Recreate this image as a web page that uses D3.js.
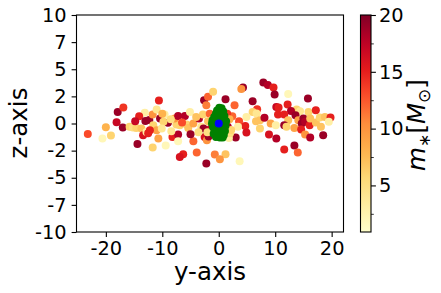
<!DOCTYPE html>
<html>
  <head>
    <meta charset="utf-8">
    <title>Stars and cluster, y-z plane</title>
    <script src="https://d3js.org/d3.v7.min.js"></script>
    <style>
      body { margin: 0; background: #fff; }
      text { font-family: "DejaVu Sans", sans-serif; fill: #000; }
    </style>
  </head>
  <body>
    <div id="chart"></div>
    <script>
      // stars: y position, z position, mass
      var starY = [-23.2, -20.6, -20.0, -19.1, -17.9, -16.9, -18.1, -17.0, -14.4, -15.8, -15.2, -14.6, -13.7, -13.1, -14.1,
        -13.0, -13.4, -12.8, -10.6, -11.7, -9.4, -12.3, -11.7, -11.0, -10.4, -9.6, -9.0, -9.8, -11.6, -11.0, -10.1, -12.2,
        -10.7, -8.2, -7.2, -8.4, -7.2, -7.5, -7.8, -7.2, -6.0, -6.9, -5.7, -5.4, -5.1, -4.5, -4.5, -6.3, -6.9, -3.9, -3.5,
        -3.1, -2.8, -2.6, -1.9, -1.0, -2.2, -2.7, -2.5, -2.1, -2.2, -0.7, 4.3, 4.0, 1.2, 6.0, 2.8, 7.9, 8.7, 9.7, 9.9, 6.8,
        6.0, 6.7, 2.4, 4.9, 3.6, 4.7, 4.9, 3.4, 6.6, 7.3, 8.1, 7.3, 9.2, 10.1, 10.5, 10.2, 8.9, 10.2, 3.0, 1.8, 1.2, 0.2,
        3.7, 12.3, 15.8, 12.2, 10.6, 13.8, 12.8, 14.4, 15.9, 17.2, 13.6, 11.6, 12.3, 14.1, 15.0, 14.7, 15.3, 16.1, 16.2,
        17.2, 17.9, 18.8, 19.8, 19.5, 18.1, 11.6, 12.0, 13.4, 14.6, 15.3, 16.2, 18.5, 11.6, 13.4, 14.0,
        -14.8, -12.5, -10.0, -8.5, -6.5, -4.0, -3.6, -5.0, -1.6, -1.5, -1.8, -1.3, 1.5, 1.6, 2.0, -1.9, -2.0, 1.9, 2.2];
      var starZ = [-0.96, -1.39, -0.34, -1.11, 1.07, 1.48, 0.12, -0.37, -1.88, -0.31, -0.37, -0.41, -0.46, 0.98, 0.67,
        0.24, -1.08, -0.78, 2.12, -2.22, -2.03, 0.33, 0.83, 1.29, 0.46, 0.83, 0.06, 0.15, -0.16, -0.62, -0.46, -0.62,
        -1.39, -1.24, -1.02, -0.71, -1.63, -0.09, 0.46, 0.70, 0.70, -0.16, -0.09, -0.41, 1.07, 0.0, -1.63, -2.83, -3.08,
        -2.68, 0.46, -0.31, 0.83, 2.15, 2.46, 2.92, 1.69, -0.46, -1.24, -1.54, -3.69, -2.86, 3.32, 3.17, 2.24, 2.06, 1.69,
        3.79, 3.54, 3.32, 2.68, 1.32, 1.07, 0.92, 0.67, 0.61, 0.21, -0.22, -0.83, -0.31, 0.21, 0.30, 0.52, -0.46, 0.0,
        -0.16, 0.83, 1.51, -1.02, -1.39, -1.29, -1.33, -2.83, -3.3, -3.48, 2.71, 2.31, 1.75, 1.48, 1.29, 1.16, 1.14, 1.07,
        1.23, 0.77, 0.83, 0.30, 0.30, 0.46, 0.0, 0.15, -0.16, 0.46, 0.09, 0.55, 0.61, 0.55, 0.15, -0.31, -0.16, -0.31,
        -0.41, -0.55, -1.02, -1.29, -1.08, -2.40, -2.03, -2.68,
        0.2, -0.9, 0.9, 0.4, 0.1, 0.6, -0.8, -1.0, 0.9, -0.5, -1.2, 0.3, 0.9, -0.3, -0.9, 0.2, -0.8, 0.4, -0.6];
      var starMass = [13, 2, 8, 6, 19, 14, 17, 19, 19, 6, 5, 6, 7, 3, 15, 19, 16, 3, 15, 6, 2, 19, 10, 4, 19, 3, 19, 6, 6,
        9, 4, 15, 9, 15, 18, 4, 2, 6, 10, 18, 18, 6, 6, 7, 3, 9, 12, 15, 16, 12, 18, 4, 6, 19, 12, 6, 11, 19, 16, 10, 19,
        11, 19, 10, 19, 19, 12, 19, 18, 15, 19, 14, 6, 4, 12, 3, 13, 15, 16, 3, 7, 7, 18, 6, 9, 3, 15, 17, 16, 18, 19, 3,
        7, 10, 2, 2, 19, 15, 15, 6, 18, 4, 6, 15, 19, 15, 7, 9, 19, 19, 18, 15, 7, 7, 6, 7, 15, 3, 7, 19, 6, 9, 15, 10,
        18, 19, 15, 19, 12,
        17, 15, 8, 5, 13, 7, 5, 19, 12, 17, 19, 5, 14, 18, 5, 7, 5, 8, 6];
      // cluster members (green) and centre (blue)
      var clusterY = [0.1, 0.5, -0.3, 0.3, 0.8, -0.5, 0.0, 0.6, 1.0, -0.8, -0.2, 0.4, -1.1, -0.5, 0.2, 0.9, 1.3, -1.2,
        -0.7, 0.7, 1.2, -1.0, -0.4, 0.3, 0.9, -0.7, 0.0, 0.6, 1.1, -0.9, -0.3, 0.4, 0.9, -0.5, 0.2, 0.7];
      var clusterZ = [1.45, 1.4, 1.2, 1.15, 1.1, 0.9, 0.9, 0.85, 0.7, 0.6, 0.6, 0.55, 0.3, 0.3, 0.3, 0.3, 0.2, 0.0,
        -0.05, -0.05, -0.2, -0.35, -0.3, -0.35, -0.4, -0.65, -0.6, -0.7, -0.7, -0.95, -0.95, -1.0, -1.05, -1.25, -1.3, -1.3];
      var centreY = [0];
      var centreZ = [0];
      // axis ticks
      var xTicks = [-20, -10, 0, 10, 20];
      var zTicks = [-10, -7.5, -5, -2.5, 0, 2.5, 5, 7.5, 10];
      var zTickLabels = ["-10", "-7", "-5", "-2", "0", "2", "5", "7", "10"];
      var massTicks = [5, 10, 15, 20];
      var massMinorTicks = [2.5, 7.5, 12.5, 17.5];

      var width = 441, height = 293;
      var plot = { left: 76.5, right: 343.5, top: 15, bottom: 232 };
      var bar = { left: 360.5, right: 371, top: 15, bottom: 232 };

      var svg = d3.select("#chart").append("svg")
        .attr("width", width)
        .attr("height", height);
      svg.append("rect").attr("width", width).attr("height", height).attr("fill", "#fff");

      var x = d3.scaleLinear().domain([-25.2, 22.1]).range([plot.left, plot.right]);
      var z = d3.scaleLinear().domain([-10, 10]).range([plot.bottom, plot.top]);
      var massScale = d3.scaleLinear().domain([0.9, 20]).range([bar.bottom, bar.top]);
      var colour = d3.scaleSequential(d3.piecewise(d3.interpolateRgb, d3.schemeYlOrRd[9])).domain([0.9, 20]);

      // stars
      svg.append("g")
        .selectAll("circle")
        .data(d3.range(starY.length))
        .join("circle")
          .attr("cx", function(i) { return x(starY[i]); })
          .attr("cy", function(i) { return z(starZ[i]); })
          .attr("r", 4)
          .attr("fill", function(i) { return colour(starMass[i]); });

      // cluster
      svg.append("g")
        .selectAll("circle")
        .data(d3.range(clusterY.length))
        .join("circle")
          .attr("cx", function(i) { return x(clusterY[i]); })
          .attr("cy", function(i) { return z(clusterZ[i]); })
          .attr("r", 4)
          .attr("fill", "#008000");

      svg.append("g")
        .selectAll("circle")
        .data(d3.range(centreY.length))
        .join("circle")
          .attr("cx", function(i) { return x(centreY[i]); })
          .attr("cy", function(i) { return z(centreZ[i]); })
          .attr("r", 4)
          .attr("fill", "#0000ff");

      // axes
      var xAxis = svg.append("g")
        .attr("transform", "translate(0," + plot.bottom + ")")
        .call(d3.axisBottom(x).tickValues(xTicks).tickFormat(d3.format("d")).tickSize(4.9).tickPadding(4.5).tickSizeOuter(0));
      var zAxis = svg.append("g")
        .attr("transform", "translate(" + plot.left + ",0)")
        .call(d3.axisLeft(z).tickValues(zTicks).tickFormat(function(d, i) { return zTickLabels[i]; })
          .tickSize(4.9).tickPadding(4.9).tickSizeOuter(0));
      [xAxis, zAxis].forEach(function(g) {
        g.select(".domain").remove();
        g.selectAll("line").attr("stroke", "#000").attr("stroke-width", 1.1);
        g.selectAll("text").style("font-size", "19.4px").style("font-family", "DejaVu Sans");
      });
      xAxis.selectAll("text").text(function(d) { return d < 0 ? "-" + Math.abs(d) : d; });

      svg.append("rect")
        .attr("x", plot.left).attr("y", plot.top)
        .attr("width", plot.right - plot.left).attr("height", plot.bottom - plot.top)
        .attr("fill", "none").attr("stroke", "#000").attr("stroke-width", 1.1);

      svg.append("text")
        .attr("x", (plot.left + plot.right) / 2).attr("y", 280)
        .attr("text-anchor", "middle")
        .style("font-size", "24.5px")
        .text("y-axis");
      svg.append("text")
        .attr("transform", "translate(27,123) rotate(-90)")
        .attr("text-anchor", "middle")
        .style("font-size", "24.5px")
        .text("z-axis");

      // colour bar
      var grad = svg.append("defs").append("linearGradient")
        .attr("id", "massGrad").attr("x1", 0).attr("y1", 1).attr("x2", 0).attr("y2", 0);
      grad.selectAll("stop")
        .data(d3.range(0, 1.0001, 0.05))
        .join("stop")
          .attr("offset", function(t) { return t; })
          .attr("stop-color", function(t) { return colour(0.9 + t * (20 - 0.9)); });
      svg.append("rect")
        .attr("x", bar.left).attr("y", bar.top)
        .attr("width", bar.right - bar.left).attr("height", bar.bottom - bar.top)
        .attr("fill", "url(#massGrad)")
        .attr("stroke", "#000").attr("stroke-width", 1.1);

      var barAxis = svg.append("g")
        .attr("transform", "translate(" + bar.right + ",0)")
        .call(d3.axisRight(massScale).tickValues(massTicks).tickFormat(d3.format("d")).tickSize(4.9).tickPadding(3).tickSizeOuter(0));
      barAxis.select(".domain").remove();
      barAxis.selectAll("line").attr("stroke", "#000").attr("stroke-width", 1.1);
      barAxis.selectAll("text").style("font-size", "19.4px").style("font-family", "DejaVu Sans");
      svg.append("g")
        .attr("transform", "translate(" + bar.right + ",0)")
        .call(d3.axisRight(massScale).tickValues(massMinorTicks).tickFormat("").tickSize(2.8).tickSizeOuter(0))
        .call(function(g) { g.select(".domain").remove(); })
        .selectAll("line").attr("stroke", "#000").attr("stroke-width", 0.8);

      var mLabel = svg.append("text")
        .attr("transform", "translate(425,125) rotate(-90)")
        .attr("text-anchor", "middle")
        .style("font-size", "24.5px");
      mLabel.append("tspan").style("font-style", "italic").text("m");
      mLabel.append("tspan").style("font-size", "16px").attr("dy", 5).text("\u2217");
      mLabel.append("tspan").attr("dy", -5).text("[");
      mLabel.append("tspan").style("font-style", "italic").text("M");
      mLabel.append("tspan").style("font-size", "17px").attr("dy", 5).text("\u2299");
      mLabel.append("tspan").attr("dy", -5).text("]");
    </script>
  </body>
</html>
